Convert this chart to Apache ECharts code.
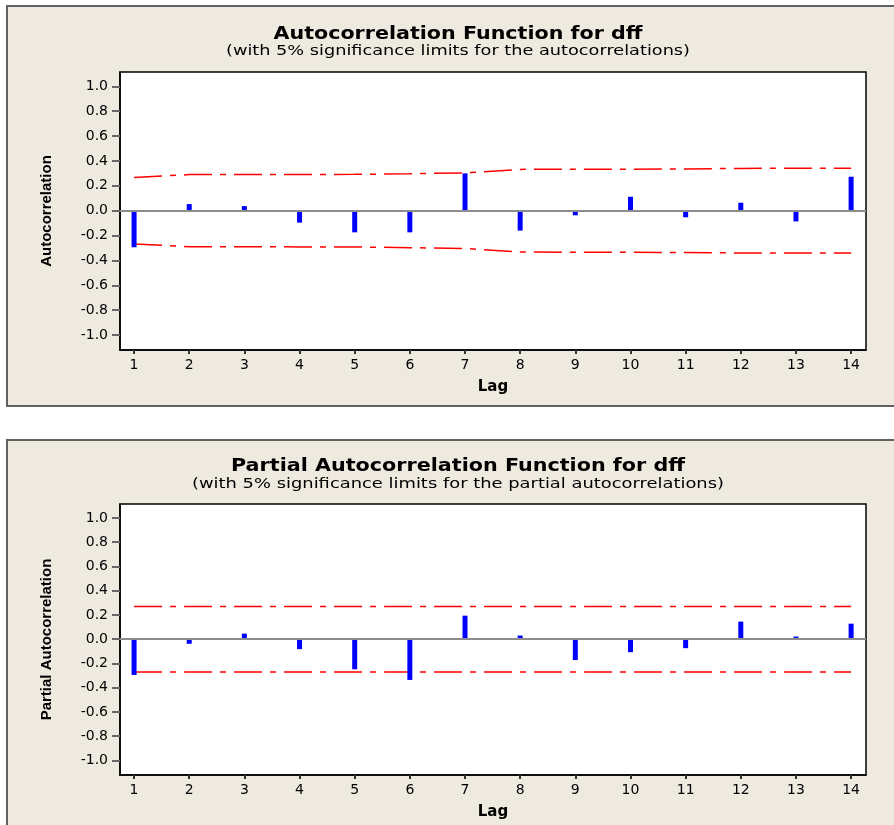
<!DOCTYPE html>
<html>
<head>
<meta charset="utf-8">
<script src="https://cdn.jsdelivr.net/npm/echarts@6/dist/echarts.min.js"></script>
<style>
html,body{margin:0;padding:0;background:#fff;}
#chart{width:894px;height:825px;}
</style>
</head>
<body>
<div id="chart"></div>
<script>
const lags = [1, 2, 3, 4, 5, 6, 7, 8, 9, 10, 11, 12, 13, 14];
const yTicks = [-1.0, -0.8, -0.6, -0.4, -0.2, 0.0, 0.2, 0.4, 0.6, 0.8, 1.0];
const acfValues = [-0.294, 0.053, 0.037, -0.096, -0.174, -0.174, 0.300, -0.160, -0.037, 0.112, -0.053, 0.064, -0.086, 0.273];
const acfLimits = [0.267, 0.290, 0.290, 0.291, 0.292, 0.297, 0.304, 0.332, 0.334, 0.334, 0.336, 0.340, 0.341, 0.341];
const pacfValues = [-0.295, -0.038, 0.046, -0.082, -0.248, -0.336, 0.194, 0.030, -0.172, -0.107, -0.074, 0.145, 0.022, 0.128];
const pacfLimits = [0.27, 0.27, 0.27, 0.27, 0.27, 0.27, 0.27, 0.27, 0.27, 0.27, 0.27, 0.27, 0.27, 0.27];

const acfTitle = 'Autocorrelation Function for dff';
const acfSub = '(with 5% significance limits for the autocorrelations)';
const pacfTitle = 'Partial Autocorrelation Function for dff';
const pacfSub = '(with 5% significance limits for the partial autocorrelations)';

const ctx = document.createElement('canvas').getContext('2d');
function fitScale(text, font, target) {
  ctx.font = font;
  return target / ctx.measureText(text).width;
}
const TITLE_FONT = 'bold 17px "DejaVu Sans"';
const SUB_FONT = '14px "DejaVu Sans"';

function titleText(text, font, y, target) {
  return {
    type: 'text', x: 458, y: y, z: 10, silent: true,
    scaleX: fitScale(text, font, target),
    style: {
      text: text, fill: '#000', textAlign: 'center', textVerticalAlign: 'middle',
      font: font
    }
  };
}

const NAME_FONT = '"Liberation Sans Narrow", "Arial Narrow", "Liberation Sans", sans-serif';
const LABEL_FONT = '"DejaVu Sans", Verdana, sans-serif';

function xAxisCfg(gridIndex) {
  return {
    type: 'value', gridIndex: gridIndex, min: 0.745, max: 14.27,
    name: 'Lag', nameLocation: 'middle', nameGap: 30,
    nameTextStyle: { fontFamily: LABEL_FONT, fontWeight: 'bold', fontSize: 15, color: '#000' },
    axisLine: { show: true, onZero: false, lineStyle: { color: '#000', width: 1.5 } },
    axisTick: { show: true, customValues: lags, length: 4, lineStyle: { color: '#333', width: 2 } },
    axisLabel: { customValues: lags, margin: 8, fontFamily: LABEL_FONT, fontSize: 14, color: '#000' },
    splitLine: { show: false }
  };
}
function yAxisCfg(gridIndex, name) {
  return {
    type: 'value', gridIndex: gridIndex, min: -1.12, max: 1.115,
    name: name, nameLocation: 'middle', nameGap: 66, nameRotate: 90,
    nameTextStyle: { fontFamily: NAME_FONT, fontWeight: 'bold', fontSize: 15, color: '#000' },
    axisLine: { show: true, lineStyle: { color: '#000', width: 1.5 } },
    axisTick: { show: true, customValues: yTicks, length: 8, lineStyle: { color: '#666', width: 2 } },
    axisLabel: {
      customValues: yTicks, margin: 12, fontFamily: LABEL_FONT, fontSize: 14, color: '#000',
      formatter: function (v) { return v.toFixed(1); }
    },
    splitLine: { show: false }
  };
}

function barSeries(idx, values) {
  return {
    type: 'bar', xAxisIndex: idx, yAxisIndex: idx, barWidth: 5,
    itemStyle: { color: '#0000FF' },
    data: lags.map((l, i) => [l, values[i]]),
    markLine: {
      silent: true, symbol: 'none', label: { show: false },
      lineStyle: { color: '#8c8c8c', width: 2, type: 'solid' },
      data: [{ yAxis: 0 }]
    },
    z: 3
  };
}
function limitSeries(idx, limits, sign) {
  return {
    type: 'line', xAxisIndex: idx, yAxisIndex: idx, symbol: 'none',
    lineStyle: { color: '#FF0000', width: 1.5, type: [28, 8, 6, 8] },
    data: lags.map((l, i) => [l, sign * limits[i]]),
    z: 2
  };
}

const chart = echarts.init(document.getElementById('chart'));
chart.setOption({
  animation: false,
  backgroundColor: '#ffffff',
  graphic: [
    { type: 'rect', z: -100, silent: true, shape: { x: 7, y: 6, width: 900, height: 400 },
      style: { fill: '#EEEAE0', stroke: '#606060', lineWidth: 2 } },
    { type: 'rect', z: -100, silent: true, shape: { x: 7, y: 440, width: 900, height: 400 },
      style: { fill: '#EEEAE0', stroke: '#606060', lineWidth: 2 } },
    titleText(acfTitle, TITLE_FONT, 35, 369),
    titleText(acfSub, SUB_FONT, 51, 464),
    titleText(pacfTitle, TITLE_FONT, 467, 454),
    titleText(pacfSub, SUB_FONT, 484, 532)
  ],
  grid: [
    { left: 120, top: 72, width: 746, height: 278, show: true, backgroundColor: '#fff', borderColor: '#000', borderWidth: 1.5 },
    { left: 120, top: 504, width: 746, height: 271, show: true, backgroundColor: '#fff', borderColor: '#000', borderWidth: 1.5 }
  ],
  xAxis: [xAxisCfg(0), xAxisCfg(1)],
  yAxis: [yAxisCfg(0, 'Autocorrelation'), yAxisCfg(1, 'Partial Autocorrelation')],
  series: [
    limitSeries(0, acfLimits, 1),
    limitSeries(0, acfLimits, -1),
    barSeries(0, acfValues),
    limitSeries(1, pacfLimits, 1),
    limitSeries(1, pacfLimits, -1),
    barSeries(1, pacfValues)
  ]
});
</script>
</body>
</html>
